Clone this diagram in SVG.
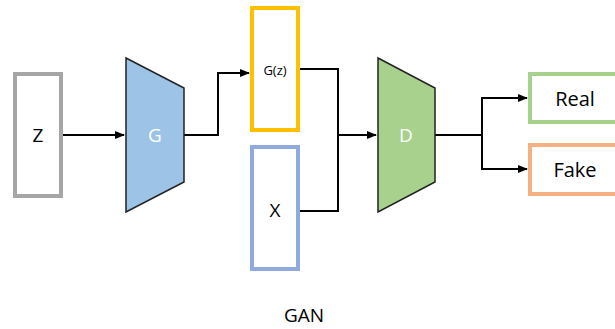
<svg xmlns="http://www.w3.org/2000/svg" width="615" height="329" viewBox="0 0 615 329">
<style>
text{font-family:"Open Sans","Liberation Sans",sans-serif;text-anchor:middle;dominant-baseline:central;fill:#000}
.box{fill:#fff;stroke-width:4}
.trap{stroke:#222;stroke-width:1.5}
.conn{fill:none;stroke:#000;stroke-width:2}
</style>
<defs>
<marker id="ah" markerWidth="10" markerHeight="8" refX="9" refY="4" orient="auto" markerUnits="userSpaceOnUse">
<path d="M0,0 L10,4 L0,8 z" fill="#000"/>
</marker>
</defs>
<g id="connectors">
<path class="conn" d="M62,135 H124" marker-end="url(#ah)"/>
<path class="conn" d="M184,135 H218 V73 H249" marker-end="url(#ah)"/>
<path class="conn" d="M299,69 H338 V211 H299"/>
<path class="conn" d="M338,135 H376" marker-end="url(#ah)"/>
<path class="conn" d="M435,135 H482 V98 H527" marker-end="url(#ah)"/>
<path class="conn" d="M482,135 V169 H527" marker-end="url(#ah)"/>
</g>
<g id="Z"><rect class="box" x="15" y="74" width="46" height="122" stroke="#a6a6a6"/><text x="38" y="135" font-size="19">Z</text></g>
<g id="G"><polygon class="trap" points="126,58 184,88 184,182 126,212" fill="#9dc3e6"/><text x="155" y="135" font-size="19" style="fill:#fff">G</text></g>
<g id="Gz"><rect class="box" x="252" y="8" width="46" height="122" stroke="#ffc000"/><text x="275" y="70" font-size="13">G(z)</text></g>
<g id="X"><rect class="box" x="252" y="147" width="46" height="122" stroke="#8faadc"/><text x="275" y="210" font-size="19">X</text></g>
<g id="D"><polygon class="trap" points="378,58 435,88 435,182 378,212" fill="#a9d18e"/><text x="406" y="135" font-size="19" style="fill:#fff">D</text></g>
<g id="Real"><rect class="box" x="530" y="74" width="90" height="48" stroke="#a9d18e" stroke-width="3.5"/><text x="575" y="98" font-size="20">Real</text></g>
<g id="Fake"><rect class="box" x="530" y="145" width="90" height="49" stroke="#f4b183" stroke-width="3.5"/><text x="575" y="169" font-size="20">Fake</text></g>
<text x="304" y="315" font-size="19">GAN</text>
</svg>
